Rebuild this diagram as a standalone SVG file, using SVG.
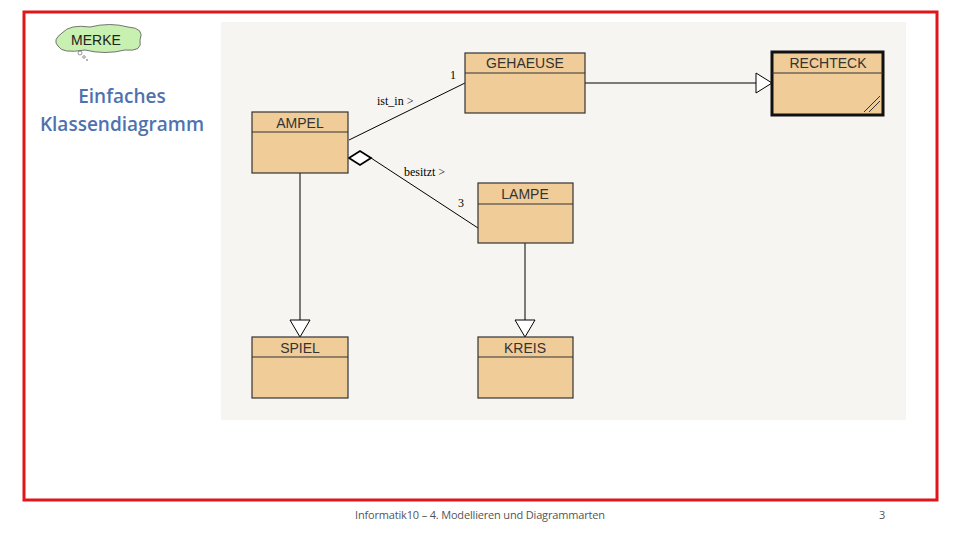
<svg xmlns="http://www.w3.org/2000/svg" width="960" height="540" viewBox="0 0 960 540">
<style>
.cls{fill:#f0cc98;stroke:#333;stroke-width:1.2}
.hl{stroke:#333;stroke-width:1}
.cn{font-family:"Liberation Sans",Arial,sans-serif;font-size:14px;fill:#333;text-anchor:middle}
.lbl{font-family:"Liberation Serif",serif;font-size:12px;fill:#000}
.ln{stroke:#000;stroke-width:1;fill:none}
.tri{fill:#fff;stroke:#000;stroke-width:1}
</style>
<rect x="0" y="0" width="960" height="540" fill="#fff"/>
<rect x="24" y="12" width="913" height="488" fill="none" stroke="#e0161b" stroke-width="3"/>
<rect x="221" y="22" width="685" height="398" fill="#f6f5f1"/>
<g id="merke">
<path d="M62,33 Q70,24 90,27 Q110,22 128,27 Q145,28 140,40 Q143,52 125,50 Q105,55 85,50 Q62,54 58,46 Q52,40 62,33 Z" fill="#c8f0b0" stroke="#555" stroke-width="0.8"/>
<text x="96" y="45" font-family="Liberation Sans,Arial,sans-serif" font-size="14" fill="#222" text-anchor="middle">MERKE</text>
<circle cx="80" cy="53" r="2" fill="none" stroke="#555" stroke-width="0.6"/>
<circle cx="84" cy="57" r="1.3" fill="none" stroke="#555" stroke-width="0.6"/>
<circle cx="87" cy="60" r="0.8" fill="#555"/>
</g>
<g id="title" font-family="Open Sans,Liberation Sans,sans-serif" font-size="19" font-weight="600" fill="#4f72ae" text-anchor="middle">
<text x="122" y="103">Einfaches</text>
<text x="122" y="131">Klassendiagramm</text>
</g>
<g id="connectors">
<line class="ln" x1="349" y1="140" x2="465" y2="83"/>
<polygon points="349,158 360,151 371,158 360,165" fill="#fff" stroke="#000" stroke-width="1.8"/>
<line class="ln" x1="371" y1="158" x2="478" y2="228"/>
<line class="ln" x1="585" y1="83" x2="756" y2="83"/>
<polygon class="tri" points="756,73 772,83 756,93"/>
<line class="ln" x1="300" y1="173" x2="300" y2="320"/>
<polygon class="tri" points="290,320 310,320 300,337"/>
<line class="ln" x1="525" y1="243" x2="525" y2="320"/>
<polygon class="tri" points="515,320 535,320 525,337"/>
<text class="lbl" x="377" y="105">ist_in &gt;</text>
<text class="lbl" x="450" y="79">1</text>
<text class="lbl" x="404" y="176">besitzt  &gt;</text>
<text class="lbl" x="458" y="207">3</text>
</g>
<g id="gehaeuse"><rect class="cls" x="465" y="53" width="120" height="60"/><line class="hl" x1="465" y1="73" x2="585" y2="73"/><text class="cn" x="525" y="68">GEHAEUSE</text></g>
<g id="rechteck"><rect class="cls" x="772" y="52" width="111" height="63" style="stroke:#111;stroke-width:3"/><line class="hl" x1="772" y1="73" x2="883" y2="73"/><text class="cn" x="828" y="68">RECHTECK</text>
<line x1="864" y1="112" x2="880" y2="96" stroke="#333"/><line x1="869" y1="112" x2="880" y2="101" stroke="#333"/></g>
<g id="ampel"><rect class="cls" x="252" y="112" width="96" height="61"/><line class="hl" x1="252" y1="132" x2="348" y2="132"/><text class="cn" x="300" y="128">AMPEL</text></g>
<g id="lampe"><rect class="cls" x="478" y="183" width="95" height="60"/><line class="hl" x1="478" y1="204" x2="573" y2="204"/><text class="cn" x="525" y="199">LAMPE</text></g>
<g id="spiel"><rect class="cls" x="252" y="337" width="96" height="61"/><line class="hl" x1="252" y1="357" x2="348" y2="357"/><text class="cn" x="300" y="353">SPIEL</text></g>
<g id="kreis"><rect class="cls" x="478" y="337" width="95" height="61"/><line class="hl" x1="478" y1="357" x2="573" y2="357"/><text class="cn" x="525" y="353">KREIS</text></g>
<g id="footer" font-family="Open Sans,Liberation Sans,sans-serif" font-size="11" fill="#555">
<text x="355" y="519" textLength="250">Informatik10 – 4. Modellieren und Diagrammarten</text>
<text x="879" y="519">3</text>
</g>
</svg>
